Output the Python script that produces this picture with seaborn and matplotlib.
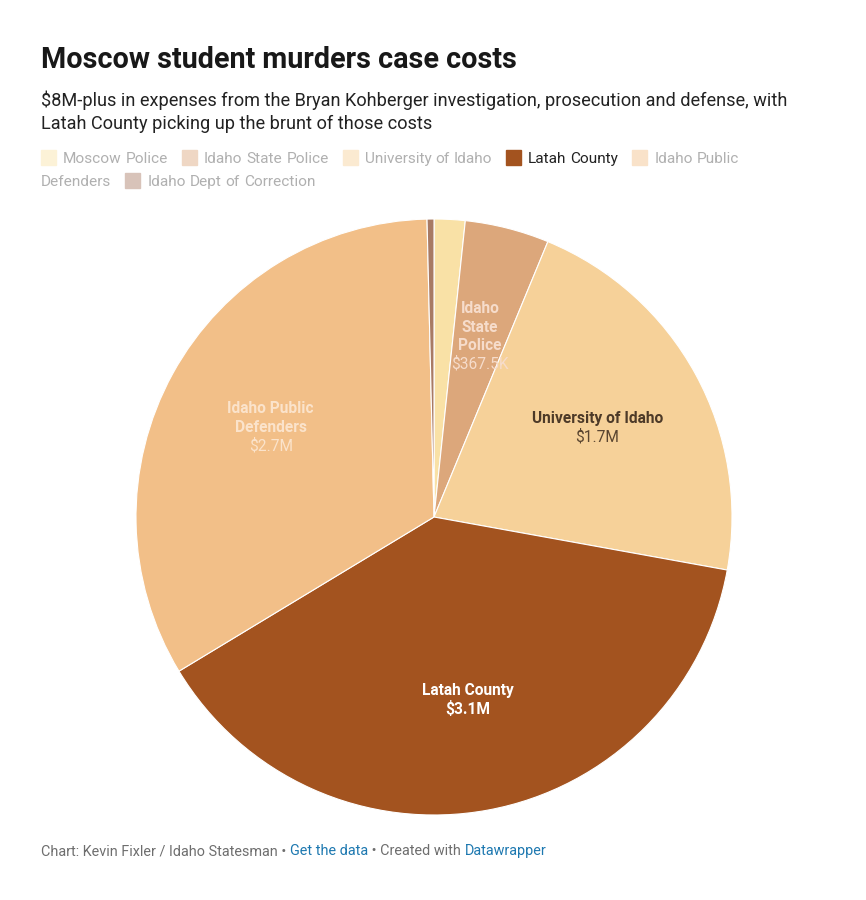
import numpy as np
import matplotlib
matplotlib.use("Agg")
import matplotlib.pyplot as plt
import matplotlib.colors as mcolors
from matplotlib.patches import Rectangle
import seaborn as sns

sns.set_theme(style="white")
plt.rcParams['font.family'] = ['Roboto', 'DejaVu Sans']

# -------------------------------------------------------------------
# Data
# -------------------------------------------------------------------
agencies = ["Moscow Police", "Idaho State Police", "University of Idaho",
            "Latah County", "Idaho Public Defenders", "Idaho Dept of Correction"]
costs = [135000, 367500, 1740000, 3100000, 2680000, 30000]
slice_labels = [None, "Idaho\nState\nPolice", "University of Idaho",
                "Latah County", "Idaho Public\nDefenders", None]
value_labels = [None, "$367.5K", "$1.7M", "$3.1M", "$2.7M", None]
colors = ["#f9e1a6", "#dca77b", "#f6d199", "#a3531f", "#f2bf88", "#a87a64"]
name_colors = [None, "#f6dccb", "#4d3a28", "#ffffff", "#fbe3cb", None]
value_colors = [None, "#f6dccb", "#5a4530", "#ffffff", "#fbe3cb", None]
highlight = "Latah County"

W, H = 866, 900
fig = plt.figure(figsize=(W / 100, H / 100), dpi=100)
fig.patch.set_facecolor("white")


def px(x, y):
    return x / W, 1 - y / H


# -------------------------------------------------------------------
# Header
# -------------------------------------------------------------------
fig.text(*px(41, 68), "Moscow student murders case costs", fontsize=20.7,
         fontweight="bold", color="#181818", va="baseline")
fig.text(*px(41, 106), "$8M-plus in expenses from the Bryan Kohberger investigation, "
         "prosecution and defense, with", fontsize=13.1, color="#222222", va="baseline")
fig.text(*px(41, 129), "Latah County picking up the brunt of those costs",
         fontsize=13.1, color="#222222", va="baseline")

# -------------------------------------------------------------------
# Legend (flow layout, wraps word by word)
# -------------------------------------------------------------------
renderer = fig.canvas.get_renderer()
x_cur, y_cur = 41, 163
right_limit = 790
for name, col in zip(agencies, colors):
    active = name == highlight
    sw_col = col if active else mcolors.to_hex(
        0.45 * np.array(mcolors.to_rgb(col)) + 0.55 * np.ones(3))
    if x_cur + 120 > right_limit:
        x_cur, y_cur = 41, y_cur + 23
    fig.patches.append(Rectangle(px(x_cur, y_cur + 2), 15 / W, 15 / H,
                                 transform=fig.transFigure, color=sw_col))
    x_cur += 22
    words = name.split(" ")
    for i, w in enumerate(words):
        t = fig.text(*px(x_cur, y_cur), w, fontsize=11.1,
                     color="#222222" if active else "#b0b0b0", va="baseline")
        bb = t.get_window_extent(renderer)
        if x_cur + bb.width > right_limit:
            x_cur, y_cur = 41, y_cur + 23
            t.set_position(px(x_cur, y_cur))
        x_cur += bb.width + 4
    x_cur += 10

# -------------------------------------------------------------------
# Pie
# -------------------------------------------------------------------
cx, cy, r = 434, 517, 298
ax = fig.add_axes([(cx - r) / W, 1 - (cy + r) / H, 2 * r / W, 2 * r / H])
wedges, _ = ax.pie(costs, colors=colors, startangle=90, counterclock=False,
                   wedgeprops=dict(edgecolor="white", linewidth=0.8))
ax.set_xlim(-1, 1)
ax.set_ylim(-1, 1)
ax.set_aspect("equal")
ax.axis("off")

pitch = 18.5 / r
for wdg, nm, val, nc, vc in zip(wedges, slice_labels, value_labels, name_colors, value_colors):
    if nm is None:
        continue
    mid = np.deg2rad((wdg.theta1 + wdg.theta2) / 2)
    lx, ly = 0.625 * np.cos(mid), 0.625 * np.sin(mid)
    lines = nm.split("\n")
    n = len(lines) + 1
    top = ly + pitch * (n - 1) / 2
    for i, ln in enumerate(lines):
        ax.text(lx, top - i * pitch, ln, ha="center", va="center",
                fontsize=11.2, fontweight="bold", color=nc)
    ax.text(lx, top - len(lines) * pitch, val, ha="center", va="center",
            fontsize=11.2, color=vc,
            fontweight="bold" if nm == highlight else "normal")

# -------------------------------------------------------------------
# Footer
# -------------------------------------------------------------------
parts = [("Chart: Kevin Fixler / Idaho Statesman • ", "#6e6e6e"),
         ("Get the data", "#1d78b0"),
         (" • Created with ", "#6e6e6e"),
         ("Datawrapper", "#1d78b0")]
fx = 41
for txt, c in parts:
    t = fig.text(*px(fx, 855), txt, fontsize=10.4, color=c, va="baseline")
    fx += t.get_window_extent(renderer).width

fig.savefig("out.png", dpi=100, facecolor="white")
